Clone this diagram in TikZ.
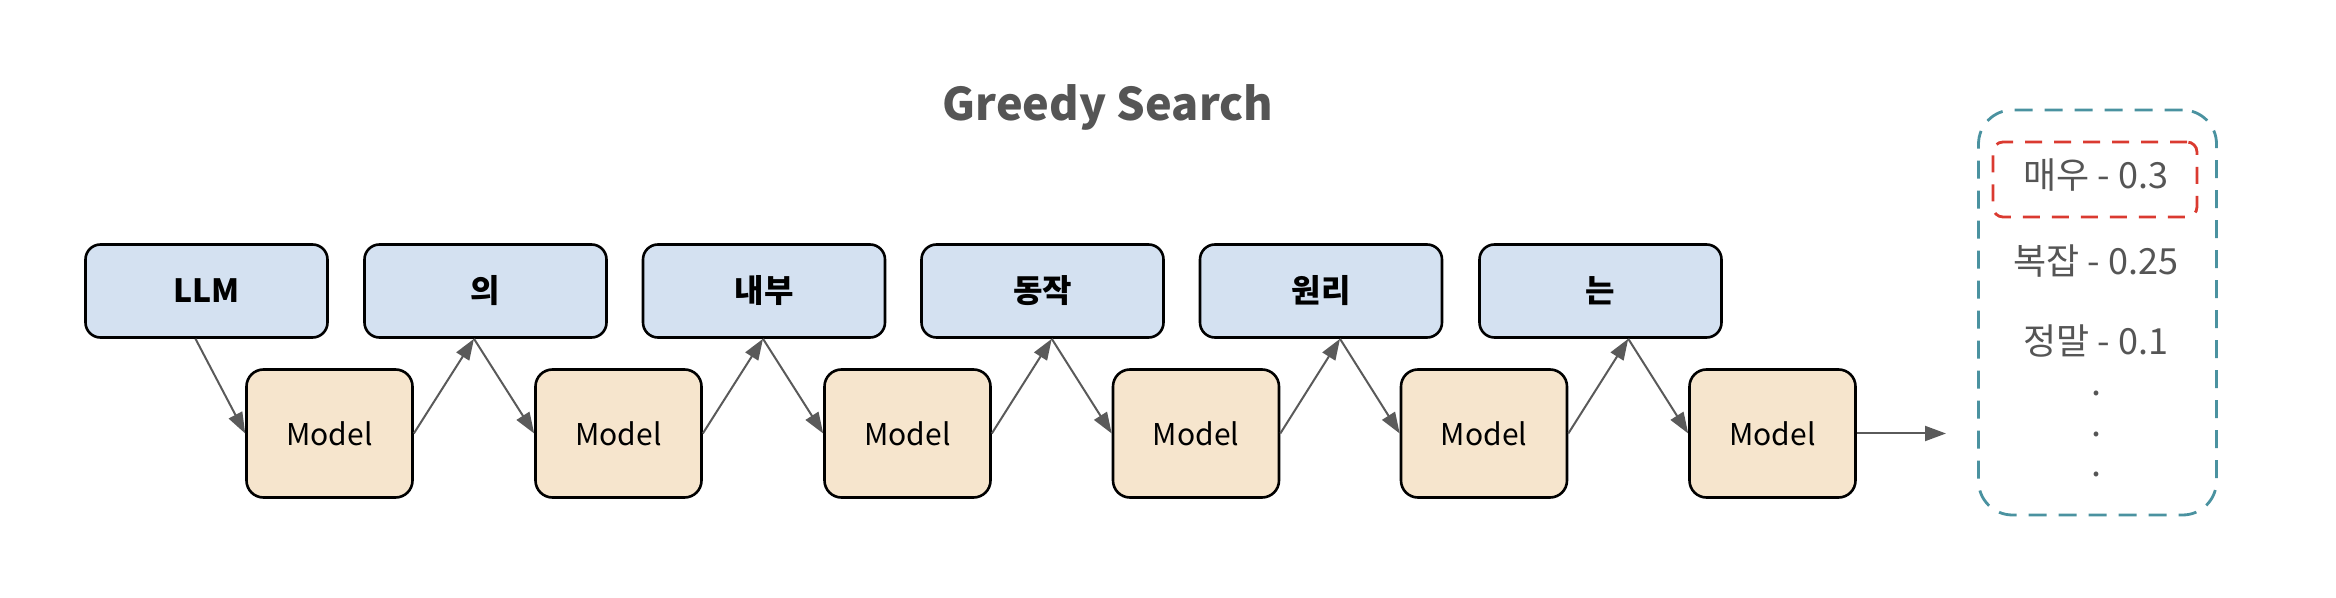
\documentclass[tikz,border=0pt]{standalone}
\usepackage{fontspec}
\setmainfont{Noto Sans CJK KR}
\usetikzlibrary{arrows.meta,calc}
\definecolor{boxblue}{HTML}{D4E1F1}
\definecolor{boxorange}{HTML}{F6E5CD}
\definecolor{arrowgray}{HTML}{5A5A5A}
\definecolor{textgray}{HTML}{555555}
\definecolor{panelteal}{HTML}{4A92A0}
\definecolor{pickred}{HTML}{DA3A30}
\begin{document}
\begin{tikzpicture}[x=0.5pt,y=-0.5pt,
  tok/.style={draw=black, line width=1.3pt, fill=boxblue, rounded corners=7.5pt,
    minimum width=121pt, minimum height=46.5pt, inner sep=0pt,
    font=\fontsize{16}{18}\selectfont\bfseries},
  mdl/.style={draw=black, line width=1.3pt, fill=boxorange, rounded corners=8.5pt,
    minimum width=83pt, minimum height=64pt, inner sep=0pt,
    font=\fontsize{15}{17}\selectfont},
  conn/.style={draw=arrowgray, line width=1pt, -{Triangle[length=10.5pt,width=7.5pt]}},
  cand/.style={text=textgray, inner sep=0pt, font=\fontsize{18}{21}\selectfont},
  panel/.style={draw=panelteal, line width=1.4pt, dash pattern=on 9pt off 6pt,
    rounded corners=17pt, minimum width=119pt, minimum height=202.5pt, inner sep=0pt},
  pick/.style={draw=pickred, line width=1.4pt, dash pattern=on 8.5pt off 6pt,
    rounded corners=5pt, minimum width=102pt, minimum height=37.5pt, inner sep=0pt},
]
\useasboundingbox (0,0) rectangle (2336,598);

\node[text=textgray, font=\fontsize{22.5}{27}\selectfont\bfseries] (title) at (1108,107) {Greedy Search};

\node[tok] (t1) at (206.5,291) {LLM};
\node[tok] (t2) at (485.5,291) {의};
\node[tok] (t3) at (764,291) {내부};
\node[tok] (t4) at (1042.5,291) {동작};
\node[tok] (t5) at (1321,291) {원리};
\node[tok] (t6) at (1600.5,291) {는};

\node[mdl] (m1) at (329.5,433.5) {Model};
\node[mdl] (m2) at (618.5,433.5) {Model};
\node[mdl] (m3) at (907.5,433.5) {Model};
\node[mdl] (m4) at (1196,433.5) {Model};
\node[mdl] (m5) at (1484,433.5) {Model};
\node[mdl] (m6) at (1772.5,433.5) {Model};

\coordinate (p1) at ($(t1.south)+(-11,0)$);
\coordinate (h2) at ($(m1.east)!0.5!(m2.west)$);
\coordinate (h3) at ($(m2.east)!0.5!(m3.west)$);
\coordinate (h4) at ($(m3.east)!0.5!(m4.west)$);
\coordinate (h5) at ($(m4.east)!0.5!(m5.west)$);
\coordinate (h6) at ($(m5.east)!0.5!(m6.west)$);
\coordinate (p2) at (h2 |- t2.south);
\coordinate (p3) at (h3 |- t3.south);
\coordinate (p4) at (h4 |- t4.south);
\coordinate (p5) at (h5 |- t5.south);
\coordinate (p6) at (h6 |- t6.south);
\coordinate (out) at (1946,433.5);

\draw[conn] (p1) -- (m1.west);
\draw[conn] (m1.east) -- (p2);
\draw[conn] (p2) -- (m2.west);
\draw[conn] (m2.east) -- (p3);
\draw[conn] (p3) -- (m3.west);
\draw[conn] (m3.east) -- (p4);
\draw[conn] (p4) -- (m4.west);
\draw[conn] (m4.east) -- (p5);
\draw[conn] (p5) -- (m5.west);
\draw[conn] (m5.east) -- (p6);
\draw[conn] (p6) -- (m6.west);
\draw[conn] (m6.east) -- (out);

\node[panel] (pan) at (2097.5,312.5) {};
\node[pick] (sel) at (2095,179.5) {};
\node[cand] (c1) at (2096,175) {매우 - 0.3};
\node[cand] (c2) at (2096,261) {복잡 - 0.25};
\node[cand] (c3) at (2096,341) {정말 - 0.1};
\node[cand] (d1) at (2096,393) {.};
\node[cand] (d2) at (2096,434) {.};
\node[cand] (d3) at (2096,474) {.};
\end{tikzpicture}
\end{document}
